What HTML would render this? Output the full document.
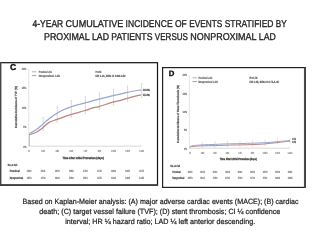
<!DOCTYPE html>
<html><head><meta charset="utf-8"><style>
html,body{margin:0;padding:0;background:#fff;width:320px;height:240px;overflow:hidden}
svg{display:block;font-family:"Liberation Sans", sans-serif;will-change:transform;text-rendering:geometricPrecision}
</style></head><body>
<svg width="320" height="240" viewBox="0 0 320 240">
<rect width="320" height="240" fill="#fff"/>
<text x="32.5" y="27.1" font-size="9.9" fill="#222" font-weight="normal" textLength="30.7" lengthAdjust="spacingAndGlyphs" stroke="#222" stroke-width="0.32">4-YEAR</text>
<text x="65.58" y="27.1" font-size="9.9" fill="#222" font-weight="normal" textLength="57.65" lengthAdjust="spacingAndGlyphs" stroke="#222" stroke-width="0.32">CUMULATIVE</text>
<text x="125.62" y="27.1" font-size="9.9" fill="#222" font-weight="normal" textLength="46.98" lengthAdjust="spacingAndGlyphs" stroke="#222" stroke-width="0.32">INCIDENCE</text>
<text x="174.99" y="27.1" font-size="9.9" fill="#222" font-weight="normal" textLength="11.83" lengthAdjust="spacingAndGlyphs" stroke="#222" stroke-width="0.32">OF</text>
<text x="189.2" y="27.1" font-size="9.9" fill="#222" font-weight="normal" textLength="33.08" lengthAdjust="spacingAndGlyphs" stroke="#222" stroke-width="0.32">EVENTS</text>
<text x="224.67" y="27.1" font-size="9.9" fill="#222" font-weight="normal" textLength="48.76" lengthAdjust="spacingAndGlyphs" stroke="#222" stroke-width="0.32">STRATIFIED</text>
<text x="275.82" y="27.1" font-size="9.9" fill="#222" font-weight="normal" textLength="10.88" lengthAdjust="spacingAndGlyphs" stroke="#222" stroke-width="0.32">BY</text>
<text x="44.0" y="39.5" font-size="9.9" fill="#222" font-weight="normal" textLength="45.63" lengthAdjust="spacingAndGlyphs" stroke="#222" stroke-width="0.32">PROXIMAL</text>
<text x="92.01" y="39.5" font-size="9.9" fill="#222" font-weight="normal" textLength="16.95" lengthAdjust="spacingAndGlyphs" stroke="#222" stroke-width="0.32">LAD</text>
<text x="111.33" y="39.5" font-size="9.9" fill="#222" font-weight="normal" textLength="41.1" lengthAdjust="spacingAndGlyphs" stroke="#222" stroke-width="0.32">PATIENTS</text>
<text x="154.8" y="39.5" font-size="9.9" fill="#222" font-weight="normal" textLength="33.17" lengthAdjust="spacingAndGlyphs" stroke="#222" stroke-width="0.32">VERSUS</text>
<text x="190.34" y="39.5" font-size="9.9" fill="#222" font-weight="normal" textLength="66.14" lengthAdjust="spacingAndGlyphs" stroke="#222" stroke-width="0.32">NONPROXIMAL</text>
<text x="258.85" y="39.5" font-size="9.9" fill="#222" font-weight="normal" textLength="16.95" lengthAdjust="spacingAndGlyphs" stroke="#222" stroke-width="0.32">LAD</text>
<text x="22.5" y="204.4" font-size="7.6" fill="#222" font-weight="normal" textLength="276" lengthAdjust="spacingAndGlyphs" stroke="#222" stroke-width="0.22">Based on Kaplan-Meier analysis: (A) major adverse cardiac events (MACE); (B) cardiac</text>
<text x="39.3" y="213.8" font-size="7.6" fill="#222" font-weight="normal" textLength="241" lengthAdjust="spacingAndGlyphs" stroke="#222" stroke-width="0.22">death; (C) target vessel failure (TVF); (D) stent thrombosis; CI ¼ confidence</text>
<text x="65.2" y="223.5" font-size="7.6" fill="#222" font-weight="normal" textLength="190" lengthAdjust="spacingAndGlyphs" stroke="#222" stroke-width="0.22">interval; HR ¼ hazard ratio; LAD ¼ left anterior descending.</text>
<rect x="0.6" y="62.7" width="156.9" height="122.39999999999999" fill="#fff" stroke="#111" stroke-width="1.2"/>
<text x="9.9" y="70.3" font-size="8.6" fill="#111" font-weight="bold" stroke="#111" stroke-width="0.35">C</text>
<text x="26.35" y="69.8" font-size="3.0" fill="#6e6e6e" font-weight="bold" text-anchor="end" textLength="4.5" lengthAdjust="spacingAndGlyphs" stroke="#6e6e6e" stroke-width="0.15">20%</text>
<text x="26.35" y="89.3" font-size="3.0" fill="#6e6e6e" font-weight="bold" text-anchor="end" textLength="4.5" lengthAdjust="spacingAndGlyphs" stroke="#6e6e6e" stroke-width="0.15">15%</text>
<text x="26.35" y="108.7" font-size="3.0" fill="#6e6e6e" font-weight="bold" text-anchor="end" textLength="4.5" lengthAdjust="spacingAndGlyphs" stroke="#6e6e6e" stroke-width="0.15">10%</text>
<text x="26.35" y="128.2" font-size="3.0" fill="#6e6e6e" font-weight="bold" text-anchor="end" textLength="3.0" lengthAdjust="spacingAndGlyphs" stroke="#6e6e6e" stroke-width="0.15">5%</text>
<text x="26.35" y="147.5" font-size="3.0" fill="#6e6e6e" font-weight="bold" text-anchor="end" textLength="3.0" lengthAdjust="spacingAndGlyphs" stroke="#6e6e6e" stroke-width="0.15">0%</text>
<line x1="28.75" y1="68.8" x2="28.75" y2="146.2" stroke="#d8d8d8" stroke-width="0.7"/>
<line x1="28.75" y1="146.2" x2="141.66" y2="146.2" stroke="#cfcfcf" stroke-width="0.8"/>
<text x="29.1" y="152.0" font-size="3.0" fill="#8a8a8a" font-weight="bold" text-anchor="middle" stroke="#8a8a8a" stroke-width="0.12">0</text>
<text x="43.17" y="152.0" font-size="3.0" fill="#8a8a8a" font-weight="bold" text-anchor="middle" textLength="3.5999999999999996" lengthAdjust="spacingAndGlyphs" stroke="#8a8a8a" stroke-width="0.12">180</text>
<text x="57.24" y="152.0" font-size="3.0" fill="#8a8a8a" font-weight="bold" text-anchor="middle" textLength="3.5999999999999996" lengthAdjust="spacingAndGlyphs" stroke="#8a8a8a" stroke-width="0.12">360</text>
<text x="71.31" y="152.0" font-size="3.0" fill="#8a8a8a" font-weight="bold" text-anchor="middle" textLength="3.5999999999999996" lengthAdjust="spacingAndGlyphs" stroke="#8a8a8a" stroke-width="0.12">540</text>
<text x="85.38" y="152.0" font-size="3.0" fill="#8a8a8a" font-weight="bold" text-anchor="middle" textLength="3.5999999999999996" lengthAdjust="spacingAndGlyphs" stroke="#8a8a8a" stroke-width="0.12">720</text>
<text x="99.44999999999999" y="152.0" font-size="3.0" fill="#8a8a8a" font-weight="bold" text-anchor="middle" textLength="3.5999999999999996" lengthAdjust="spacingAndGlyphs" stroke="#8a8a8a" stroke-width="0.12">900</text>
<text x="113.52000000000001" y="152.0" font-size="3.0" fill="#8a8a8a" font-weight="bold" text-anchor="middle" textLength="4.8" lengthAdjust="spacingAndGlyphs" stroke="#8a8a8a" stroke-width="0.12">1080</text>
<text x="127.59" y="152.0" font-size="3.0" fill="#8a8a8a" font-weight="bold" text-anchor="middle" textLength="4.8" lengthAdjust="spacingAndGlyphs" stroke="#8a8a8a" stroke-width="0.12">1260</text>
<text x="141.66" y="152.0" font-size="3.0" fill="#8a8a8a" font-weight="bold" text-anchor="middle" textLength="4.8" lengthAdjust="spacingAndGlyphs" stroke="#8a8a8a" stroke-width="0.12">1440</text>
<text x="83.2" y="159.0" font-size="3.0" fill="#3a3a3a" font-weight="bold" text-anchor="middle" textLength="41.3" lengthAdjust="spacingAndGlyphs" stroke="#3a3a3a" stroke-width="0.25">Time After Initial Procedure (days)</text>
<text transform="translate(17.2,107) rotate(-90)" font-size="3.0" fill="#555555" stroke="#555555" stroke-width="0.2" font-weight="bold" text-anchor="middle" textLength="42" lengthAdjust="spacingAndGlyphs">Cumulative Incidence of TVF (%)</text>
<line x1="31.8" y1="71.8" x2="36.3" y2="71.8" stroke="#a6b5d6" stroke-width="1"/>
<line x1="31.8" y1="75.6" x2="36.3" y2="75.6" stroke="#bf9696" stroke-width="1"/>
<text x="38.8" y="72.8" font-size="3.0" fill="#5e5e5e" font-weight="bold" textLength="13.2" lengthAdjust="spacingAndGlyphs" stroke="#5e5e5e" stroke-width="0.15">Proximal LAD</text>
<text x="38.8" y="76.6" font-size="3.0" fill="#5e5e5e" font-weight="bold" textLength="21.3" lengthAdjust="spacingAndGlyphs" stroke="#5e5e5e" stroke-width="0.15">Nonproximal LAD</text>
<text x="95.5" y="72.75" font-size="3.0" fill="#555555" font-weight="bold" textLength="6.0" lengthAdjust="spacingAndGlyphs" stroke="#555555" stroke-width="0.18">P=0.001</text>
<text x="95.5" y="77.0" font-size="3.0" fill="#555555" font-weight="bold" textLength="30" lengthAdjust="spacingAndGlyphs" stroke="#555555" stroke-width="0.18">HR 1.21, 95% CI 0.98-1.50</text>
<text x="7.8" y="165.7" font-size="3.0" fill="#4a4a4a" font-weight="bold" textLength="9.5" lengthAdjust="spacingAndGlyphs" stroke="#4a4a4a" stroke-width="0.2">No. at risk</text>
<text x="9.7" y="172.2" font-size="3.0" fill="#4a4a4a" font-weight="bold" textLength="9.9" lengthAdjust="spacingAndGlyphs" stroke="#4a4a4a" stroke-width="0.2">Proximal</text>
<text x="9.7" y="179.3" font-size="3.0" fill="#4a4a4a" font-weight="bold" textLength="13.5" lengthAdjust="spacingAndGlyphs" stroke="#4a4a4a" stroke-width="0.2">Nonproximal</text>
<text x="29.1" y="172.2" font-size="3.0" fill="#808080" font-weight="bold" text-anchor="middle" textLength="4.6" lengthAdjust="spacingAndGlyphs" stroke="#808080" stroke-width="0.18">2222</text>
<text x="29.1" y="179.3" font-size="3.0" fill="#808080" font-weight="bold" text-anchor="middle" textLength="4.6" lengthAdjust="spacingAndGlyphs" stroke="#808080" stroke-width="0.18">1873</text>
<text x="43.17" y="172.2" font-size="3.0" fill="#808080" font-weight="bold" text-anchor="middle" textLength="4.6" lengthAdjust="spacingAndGlyphs" stroke="#808080" stroke-width="0.18">2041</text>
<text x="43.17" y="179.3" font-size="3.0" fill="#808080" font-weight="bold" text-anchor="middle" textLength="4.6" lengthAdjust="spacingAndGlyphs" stroke="#808080" stroke-width="0.18">1720</text>
<text x="57.24" y="172.2" font-size="3.0" fill="#808080" font-weight="bold" text-anchor="middle" textLength="4.6" lengthAdjust="spacingAndGlyphs" stroke="#808080" stroke-width="0.18">1920</text>
<text x="57.24" y="179.3" font-size="3.0" fill="#808080" font-weight="bold" text-anchor="middle" textLength="4.6" lengthAdjust="spacingAndGlyphs" stroke="#808080" stroke-width="0.18">1632</text>
<text x="71.31" y="172.2" font-size="3.0" fill="#808080" font-weight="bold" text-anchor="middle" textLength="4.6" lengthAdjust="spacingAndGlyphs" stroke="#808080" stroke-width="0.18">1855</text>
<text x="71.31" y="179.3" font-size="3.0" fill="#808080" font-weight="bold" text-anchor="middle" textLength="4.6" lengthAdjust="spacingAndGlyphs" stroke="#808080" stroke-width="0.18">1580</text>
<text x="85.38" y="172.2" font-size="3.0" fill="#808080" font-weight="bold" text-anchor="middle" textLength="4.6" lengthAdjust="spacingAndGlyphs" stroke="#808080" stroke-width="0.18">1790</text>
<text x="85.38" y="179.3" font-size="3.0" fill="#808080" font-weight="bold" text-anchor="middle" textLength="4.6" lengthAdjust="spacingAndGlyphs" stroke="#808080" stroke-width="0.18">1521</text>
<text x="99.44999999999999" y="172.2" font-size="3.0" fill="#808080" font-weight="bold" text-anchor="middle" textLength="4.6" lengthAdjust="spacingAndGlyphs" stroke="#808080" stroke-width="0.18">1732</text>
<text x="99.44999999999999" y="179.3" font-size="3.0" fill="#808080" font-weight="bold" text-anchor="middle" textLength="4.6" lengthAdjust="spacingAndGlyphs" stroke="#808080" stroke-width="0.18">1475</text>
<text x="113.52000000000001" y="172.2" font-size="3.0" fill="#808080" font-weight="bold" text-anchor="middle" textLength="4.6" lengthAdjust="spacingAndGlyphs" stroke="#808080" stroke-width="0.18">1680</text>
<text x="113.52000000000001" y="179.3" font-size="3.0" fill="#808080" font-weight="bold" text-anchor="middle" textLength="4.6" lengthAdjust="spacingAndGlyphs" stroke="#808080" stroke-width="0.18">1430</text>
<text x="127.59" y="172.2" font-size="3.0" fill="#808080" font-weight="bold" text-anchor="middle" textLength="4.6" lengthAdjust="spacingAndGlyphs" stroke="#808080" stroke-width="0.18">1625</text>
<text x="127.59" y="179.3" font-size="3.0" fill="#808080" font-weight="bold" text-anchor="middle" textLength="4.6" lengthAdjust="spacingAndGlyphs" stroke="#808080" stroke-width="0.18">1388</text>
<text x="141.66" y="172.2" font-size="3.0" fill="#808080" font-weight="bold" text-anchor="middle" textLength="4.6" lengthAdjust="spacingAndGlyphs" stroke="#808080" stroke-width="0.18">1571</text>
<text x="141.66" y="179.3" font-size="3.0" fill="#808080" font-weight="bold" text-anchor="middle" textLength="4.6" lengthAdjust="spacingAndGlyphs" stroke="#808080" stroke-width="0.18">1345</text>
<path d="M43.17,117.54 V130.45 M42.57,117.54 h1.2 M42.57,130.45 h1.2" stroke="#cccccc" stroke-width="0.75" fill="none"/>
<path d="M57.24,106.77 V122.31 M56.64,106.77 h1.2 M56.64,122.31 h1.2" stroke="#cccccc" stroke-width="0.75" fill="none"/>
<path d="M71.31,100.51 V117.52 M70.71,100.51 h1.2 M70.71,117.52 h1.2" stroke="#cccccc" stroke-width="0.75" fill="none"/>
<path d="M85.38,96.49 V113.38 M84.78,96.49 h1.2 M84.78,113.38 h1.2" stroke="#cccccc" stroke-width="0.75" fill="none"/>
<path d="M99.45,92.79 V109.46 M98.85,92.79 h1.2 M98.85,109.46 h1.2" stroke="#cccccc" stroke-width="0.75" fill="none"/>
<path d="M113.52,89.28 V104.99 M112.92,89.28 h1.2 M112.92,104.99 h1.2" stroke="#cccccc" stroke-width="0.75" fill="none"/>
<path d="M127.59,86.04 V101.23 M126.99,86.04 h1.2 M126.99,101.23 h1.2" stroke="#cccccc" stroke-width="0.75" fill="none"/>
<path d="M141.66,83.50 V97.80 M141.06,83.50 h1.2 M141.06,97.80 h1.2" stroke="#cccccc" stroke-width="0.75" fill="none"/>
<line x1="29.3" y1="146.2" x2="29.5" y2="133.5" stroke="#b4aec4" stroke-width="0.9"/>
<path d="M29.50,134.80 C30.72,134.33 34.67,133.10 36.80,132.00 C38.93,130.90 40.30,129.77 42.30,128.20 C44.30,126.63 46.35,124.07 48.80,122.60 C51.25,121.13 54.47,120.37 57.00,119.40 C59.53,118.43 61.72,117.58 64.00,116.80 C66.28,116.02 68.48,115.37 70.70,114.70 C72.92,114.03 74.92,113.50 77.30,112.80 C79.68,112.10 82.22,111.37 85.00,110.50 C87.78,109.63 91.67,108.25 94.00,107.60 C96.33,106.95 95.83,107.52 99.00,106.60 C102.17,105.68 109.50,103.10 113.00,102.10 C116.50,101.10 117.62,101.23 120.00,100.60 C122.38,99.97 123.80,99.27 127.30,98.30 C130.80,97.33 138.72,95.38 141.00,94.80" fill="none" stroke="#b98585" stroke-width="1.25" stroke-linejoin="round"/>
<path d="M29.50,133.50 C30.72,132.80 34.67,130.78 36.80,129.30 C38.93,127.82 40.30,126.33 42.30,124.60 C44.30,122.87 46.35,120.80 48.80,118.90 C51.25,117.00 54.47,114.77 57.00,113.20 C59.53,111.63 61.72,110.53 64.00,109.50 C66.28,108.47 68.48,107.77 70.70,107.00 C72.92,106.23 74.92,105.58 77.30,104.90 C79.68,104.22 82.22,103.65 85.00,102.90 C87.78,102.15 91.67,101.02 94.00,100.40 C96.33,99.78 95.83,99.98 99.00,99.20 C102.17,98.42 109.50,96.55 113.00,95.70 C116.50,94.85 117.62,94.65 120.00,94.10 C122.38,93.55 123.80,93.12 127.30,92.40 C130.80,91.68 138.72,90.23 141.00,89.80" fill="none" stroke="#97a7cf" stroke-width="1.25" stroke-linejoin="round"/>
<text x="142.8" y="90.8" font-size="3.0" fill="#4a4a4a" font-weight="bold" textLength="7.0" lengthAdjust="spacingAndGlyphs" stroke="#4a4a4a" stroke-width="0.2">19.0%</text>
<text x="142.8" y="95.6" font-size="3.0" fill="#4a4a4a" font-weight="bold" textLength="7.0" lengthAdjust="spacingAndGlyphs" stroke="#4a4a4a" stroke-width="0.2">15.4%</text>
<rect x="162.6" y="67.6" width="142.8" height="119.8" fill="#fff" stroke="#222" stroke-width="1.2"/>
<text x="168.8" y="76.1" font-size="7.8" fill="#111" font-weight="bold" stroke="#111" stroke-width="0.35">D</text>
<text x="187.0" y="76.1" font-size="3.0" fill="#6e6e6e" font-weight="bold" text-anchor="end" textLength="4.5" lengthAdjust="spacingAndGlyphs" stroke="#6e6e6e" stroke-width="0.15">20%</text>
<text x="187.0" y="94.7" font-size="3.0" fill="#6e6e6e" font-weight="bold" text-anchor="end" textLength="4.5" lengthAdjust="spacingAndGlyphs" stroke="#6e6e6e" stroke-width="0.15">15%</text>
<text x="187.0" y="112.8" font-size="3.0" fill="#6e6e6e" font-weight="bold" text-anchor="end" textLength="4.5" lengthAdjust="spacingAndGlyphs" stroke="#6e6e6e" stroke-width="0.15">10%</text>
<text x="187.0" y="131.3" font-size="3.0" fill="#6e6e6e" font-weight="bold" text-anchor="end" textLength="3.0" lengthAdjust="spacingAndGlyphs" stroke="#6e6e6e" stroke-width="0.15">5%</text>
<text x="187.0" y="149.5" font-size="3.0" fill="#6e6e6e" font-weight="bold" text-anchor="end" textLength="3.0" lengthAdjust="spacingAndGlyphs" stroke="#6e6e6e" stroke-width="0.15">0%</text>
<line x1="189.4" y1="75.1" x2="189.4" y2="148.2" stroke="#d8d8d8" stroke-width="0.7"/>
<line x1="189.4" y1="148.2" x2="290.0" y2="148.2" stroke="#cfcfcf" stroke-width="0.8"/>
<text x="190.0" y="153.5" font-size="3.0" fill="#8a8a8a" font-weight="bold" text-anchor="middle" stroke="#8a8a8a" stroke-width="0.12">0</text>
<text x="202.5" y="153.5" font-size="3.0" fill="#8a8a8a" font-weight="bold" text-anchor="middle" textLength="3.5999999999999996" lengthAdjust="spacingAndGlyphs" stroke="#8a8a8a" stroke-width="0.12">180</text>
<text x="215.0" y="153.5" font-size="3.0" fill="#8a8a8a" font-weight="bold" text-anchor="middle" textLength="3.5999999999999996" lengthAdjust="spacingAndGlyphs" stroke="#8a8a8a" stroke-width="0.12">360</text>
<text x="227.5" y="153.5" font-size="3.0" fill="#8a8a8a" font-weight="bold" text-anchor="middle" textLength="3.5999999999999996" lengthAdjust="spacingAndGlyphs" stroke="#8a8a8a" stroke-width="0.12">540</text>
<text x="240.0" y="153.5" font-size="3.0" fill="#8a8a8a" font-weight="bold" text-anchor="middle" textLength="3.5999999999999996" lengthAdjust="spacingAndGlyphs" stroke="#8a8a8a" stroke-width="0.12">720</text>
<text x="252.5" y="153.5" font-size="3.0" fill="#8a8a8a" font-weight="bold" text-anchor="middle" textLength="3.5999999999999996" lengthAdjust="spacingAndGlyphs" stroke="#8a8a8a" stroke-width="0.12">900</text>
<text x="265.0" y="153.5" font-size="3.0" fill="#8a8a8a" font-weight="bold" text-anchor="middle" textLength="4.8" lengthAdjust="spacingAndGlyphs" stroke="#8a8a8a" stroke-width="0.12">1080</text>
<text x="277.5" y="153.5" font-size="3.0" fill="#8a8a8a" font-weight="bold" text-anchor="middle" textLength="4.8" lengthAdjust="spacingAndGlyphs" stroke="#8a8a8a" stroke-width="0.12">1260</text>
<text x="290.0" y="153.5" font-size="3.0" fill="#8a8a8a" font-weight="bold" text-anchor="middle" textLength="4.8" lengthAdjust="spacingAndGlyphs" stroke="#8a8a8a" stroke-width="0.12">1440</text>
<text x="238.3" y="160.1" font-size="3.0" fill="#3a3a3a" font-weight="bold" text-anchor="middle" textLength="37" lengthAdjust="spacingAndGlyphs" stroke="#3a3a3a" stroke-width="0.25">Time After Initial Procedure (days)</text>
<text transform="translate(178.8,114) rotate(-90)" font-size="3.0" fill="#555555" stroke="#555555" stroke-width="0.2" font-weight="bold" text-anchor="middle" textLength="58" lengthAdjust="spacingAndGlyphs">Cumulative Incidence of Stent Thrombosis (%)</text>
<line x1="192.4" y1="77.75" x2="196.9" y2="77.75" stroke="#a6b5d6" stroke-width="1"/>
<line x1="192.4" y1="81.6" x2="196.9" y2="81.6" stroke="#bf9696" stroke-width="1"/>
<text x="198.4" y="78.75" font-size="3.0" fill="#5e5e5e" font-weight="bold" textLength="13.8" lengthAdjust="spacingAndGlyphs" stroke="#5e5e5e" stroke-width="0.15">Proximal LAD</text>
<text x="198.4" y="82.6" font-size="3.0" fill="#5e5e5e" font-weight="bold" textLength="19.4" lengthAdjust="spacingAndGlyphs" stroke="#5e5e5e" stroke-width="0.15">Nonproximal LAD</text>
<text x="249.4" y="79.1" font-size="3.0" fill="#555555" font-weight="bold" textLength="8" lengthAdjust="spacingAndGlyphs" stroke="#555555" stroke-width="0.18">P=0.79</text>
<text x="249.4" y="83.0" font-size="3.0" fill="#555555" font-weight="bold" textLength="29.5" lengthAdjust="spacingAndGlyphs" stroke="#555555" stroke-width="0.18">HR 1.05, 95% CI 0.71-1.40</text>
<text x="170.6" y="166.8" font-size="3.0" fill="#4a4a4a" font-weight="bold" textLength="9.5" lengthAdjust="spacingAndGlyphs" stroke="#4a4a4a" stroke-width="0.2">No. at risk</text>
<text x="172.5" y="172.75" font-size="3.0" fill="#4a4a4a" font-weight="bold" textLength="8.1" lengthAdjust="spacingAndGlyphs" stroke="#4a4a4a" stroke-width="0.2">Proximal</text>
<text x="172.5" y="179.2" font-size="3.0" fill="#4a4a4a" font-weight="bold" textLength="11.9" lengthAdjust="spacingAndGlyphs" stroke="#4a4a4a" stroke-width="0.2">Nonproximal</text>
<text x="190.0" y="172.75" font-size="3.0" fill="#808080" font-weight="bold" text-anchor="middle" textLength="4.6" lengthAdjust="spacingAndGlyphs" stroke="#808080" stroke-width="0.18">2222</text>
<text x="190.0" y="179.2" font-size="3.0" fill="#808080" font-weight="bold" text-anchor="middle" textLength="4.6" lengthAdjust="spacingAndGlyphs" stroke="#808080" stroke-width="0.18">1873</text>
<text x="202.5" y="172.75" font-size="3.0" fill="#808080" font-weight="bold" text-anchor="middle" textLength="4.6" lengthAdjust="spacingAndGlyphs" stroke="#808080" stroke-width="0.18">2150</text>
<text x="202.5" y="179.2" font-size="3.0" fill="#808080" font-weight="bold" text-anchor="middle" textLength="4.6" lengthAdjust="spacingAndGlyphs" stroke="#808080" stroke-width="0.18">1821</text>
<text x="215.0" y="172.75" font-size="3.0" fill="#808080" font-weight="bold" text-anchor="middle" textLength="4.6" lengthAdjust="spacingAndGlyphs" stroke="#808080" stroke-width="0.18">2101</text>
<text x="215.0" y="179.2" font-size="3.0" fill="#808080" font-weight="bold" text-anchor="middle" textLength="4.6" lengthAdjust="spacingAndGlyphs" stroke="#808080" stroke-width="0.18">1790</text>
<text x="227.5" y="172.75" font-size="3.0" fill="#808080" font-weight="bold" text-anchor="middle" textLength="4.6" lengthAdjust="spacingAndGlyphs" stroke="#808080" stroke-width="0.18">2063</text>
<text x="227.5" y="179.2" font-size="3.0" fill="#808080" font-weight="bold" text-anchor="middle" textLength="4.6" lengthAdjust="spacingAndGlyphs" stroke="#808080" stroke-width="0.18">1765</text>
<text x="240.0" y="172.75" font-size="3.0" fill="#808080" font-weight="bold" text-anchor="middle" textLength="4.6" lengthAdjust="spacingAndGlyphs" stroke="#808080" stroke-width="0.18">2031</text>
<text x="240.0" y="179.2" font-size="3.0" fill="#808080" font-weight="bold" text-anchor="middle" textLength="4.6" lengthAdjust="spacingAndGlyphs" stroke="#808080" stroke-width="0.18">1742</text>
<text x="252.5" y="172.75" font-size="3.0" fill="#808080" font-weight="bold" text-anchor="middle" textLength="4.6" lengthAdjust="spacingAndGlyphs" stroke="#808080" stroke-width="0.18">2003</text>
<text x="252.5" y="179.2" font-size="3.0" fill="#808080" font-weight="bold" text-anchor="middle" textLength="4.6" lengthAdjust="spacingAndGlyphs" stroke="#808080" stroke-width="0.18">1720</text>
<text x="265.0" y="172.75" font-size="3.0" fill="#808080" font-weight="bold" text-anchor="middle" textLength="4.6" lengthAdjust="spacingAndGlyphs" stroke="#808080" stroke-width="0.18">1979</text>
<text x="265.0" y="179.2" font-size="3.0" fill="#808080" font-weight="bold" text-anchor="middle" textLength="4.6" lengthAdjust="spacingAndGlyphs" stroke="#808080" stroke-width="0.18">1701</text>
<text x="277.5" y="172.75" font-size="3.0" fill="#808080" font-weight="bold" text-anchor="middle" textLength="4.6" lengthAdjust="spacingAndGlyphs" stroke="#808080" stroke-width="0.18">1956</text>
<text x="277.5" y="179.2" font-size="3.0" fill="#808080" font-weight="bold" text-anchor="middle" textLength="4.6" lengthAdjust="spacingAndGlyphs" stroke="#808080" stroke-width="0.18">1683</text>
<text x="290.0" y="172.75" font-size="3.0" fill="#808080" font-weight="bold" text-anchor="middle" textLength="4.6" lengthAdjust="spacingAndGlyphs" stroke="#808080" stroke-width="0.18">1931</text>
<text x="290.0" y="179.2" font-size="3.0" fill="#808080" font-weight="bold" text-anchor="middle" textLength="4.6" lengthAdjust="spacingAndGlyphs" stroke="#808080" stroke-width="0.18">1665</text>
<path d="M202.50,142.35 V147.37 M201.90,142.35 h1.2 M201.90,147.37 h1.2" stroke="#dddddd" stroke-width="0.75" fill="none"/>
<path d="M215.00,141.91 V147.11 M214.40,141.91 h1.2 M214.40,147.11 h1.2" stroke="#dddddd" stroke-width="0.75" fill="none"/>
<path d="M227.50,141.37 V146.67 M226.90,141.37 h1.2 M226.90,146.67 h1.2" stroke="#dddddd" stroke-width="0.75" fill="none"/>
<path d="M240.00,141.10 V146.40 M239.40,141.10 h1.2 M239.40,146.40 h1.2" stroke="#dddddd" stroke-width="0.75" fill="none"/>
<path d="M252.50,140.68 V146.07 M251.90,140.68 h1.2 M251.90,146.07 h1.2" stroke="#dddddd" stroke-width="0.75" fill="none"/>
<path d="M265.00,140.22 V145.39 M264.40,140.22 h1.2 M264.40,145.39 h1.2" stroke="#dddddd" stroke-width="0.75" fill="none"/>
<path d="M277.50,139.15 V144.04 M276.90,139.15 h1.2 M276.90,144.04 h1.2" stroke="#dddddd" stroke-width="0.75" fill="none"/>
<path d="M290.00,138.00 V142.60 M289.40,138.00 h1.2 M289.40,142.60 h1.2" stroke="#dddddd" stroke-width="0.75" fill="none"/>
<line x1="189.5" y1="148.3" x2="190.3" y2="146.6" stroke="#b4aec4" stroke-width="0.9"/>
<path d="M190.30,147.00 C190.50,146.93 189.72,146.78 191.50,146.60 C193.28,146.42 197.02,146.07 201.00,145.90 C204.98,145.73 211.23,145.72 215.40,145.60 C219.57,145.48 221.90,145.32 226.00,145.20 C230.10,145.08 235.67,145.00 240.00,144.90 C244.33,144.80 248.00,144.75 252.00,144.60 C256.00,144.45 259.83,144.33 264.00,144.00 C268.17,143.67 272.67,143.08 277.00,142.60 C281.33,142.12 287.83,141.35 290.00,141.10" fill="none" stroke="#b98585" stroke-width="1.0" stroke-linejoin="round"/>
<path d="M190.30,146.60 C190.50,146.50 189.72,146.28 191.50,146.00 C193.28,145.72 197.02,145.17 201.00,144.90 C204.98,144.63 211.23,144.57 215.40,144.40 C219.57,144.23 221.90,144.03 226.00,143.90 C230.10,143.77 235.67,143.72 240.00,143.60 C244.33,143.48 248.00,143.33 252.00,143.20 C256.00,143.07 259.83,143.05 264.00,142.80 C268.17,142.55 272.67,142.08 277.00,141.70 C281.33,141.32 287.83,140.70 290.00,140.50" fill="none" stroke="#97a7cf" stroke-width="1.0" stroke-linejoin="round"/>
<text x="292.3" y="140.3" font-size="3.0" fill="#4a4a4a" font-weight="bold" textLength="3.6" lengthAdjust="spacingAndGlyphs" stroke="#4a4a4a" stroke-width="0.2">2.1%</text>
<text x="292.3" y="143.3" font-size="3.0" fill="#4a4a4a" font-weight="bold" textLength="3.6" lengthAdjust="spacingAndGlyphs" stroke="#4a4a4a" stroke-width="0.2">2.0%</text>
<line x1="0.65" y1="63" x2="0.65" y2="184.5" stroke="#fff" stroke-width="1.3"/><line x1="0.65" y1="62.1" x2="0.65" y2="185.9" stroke="#474747" stroke-width="1.3"/>
<line x1="0" y1="185.1" x2="158.1" y2="185.1" stroke="#404040" stroke-width="1.7"/>
<line x1="304.9" y1="67.5" x2="304.9" y2="188" stroke="#4a4a4a" stroke-width="1.9"/>
</svg>
</body></html>
